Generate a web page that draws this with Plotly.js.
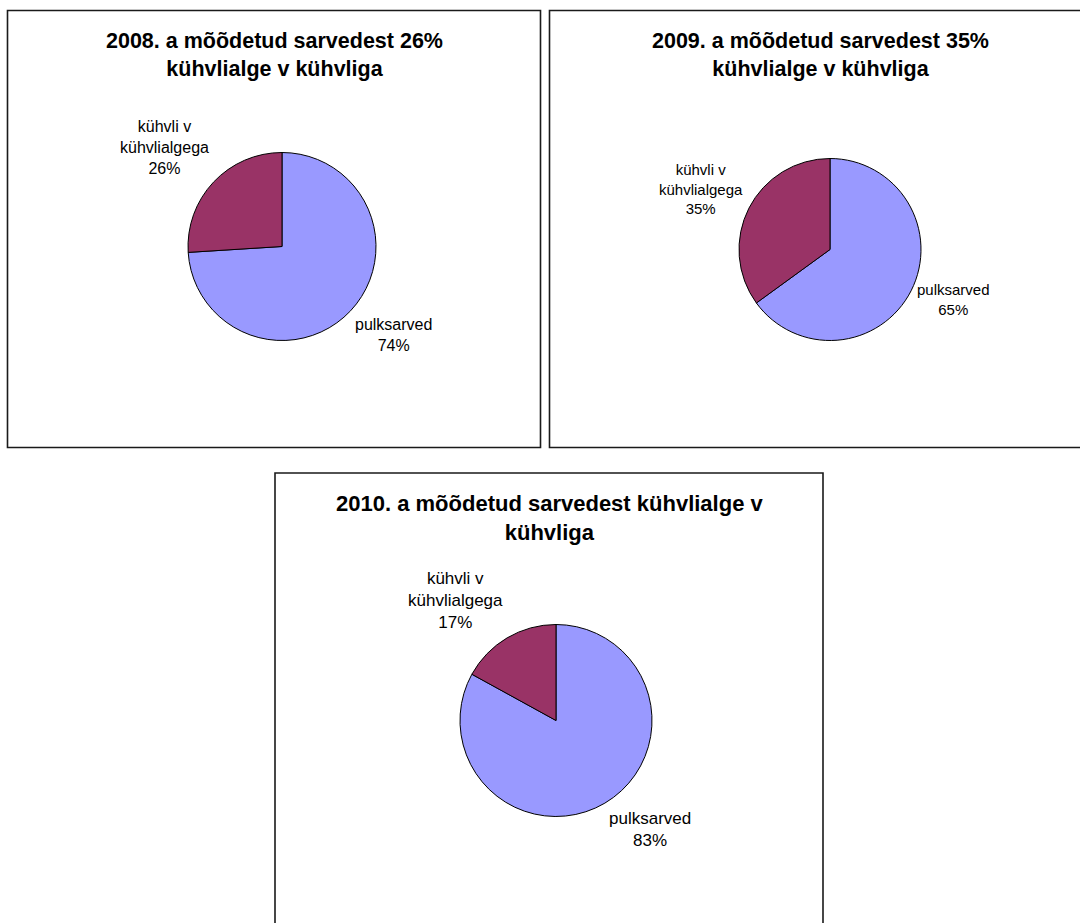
<!DOCTYPE html>
<html>
<head>
<meta charset="utf-8">
<script src="https://cdn.plot.ly/plotly-3.0.1.min.js"></script>
<style>
  html, body { margin: 0; padding: 0; background: #ffffff; }
  #chart { width: 1080px; height: 923px; }
</style>
</head>
<body>
<div id="chart"></div>
<script>
// Survey years and the two kinds of antlers measured each year
const years = ['2008', '2009', '2010'];
const sliceNames = ['pulksarved', 'kühvli v kühvlialgega'];
const sliceLabelLines = ['pulksarved', 'kühvli v<br>kühvlialgega'];
const pulksarvedShare = [74, 65, 83];
const kuhvliShare = [26, 35, 17];
// whether the share is written into the chart heading
const headingHasShare = [true, true, false];

const sliceColors = ['#9999FF', '#993366'];
const FONT = '"Liberation Sans", Arial, Helvetica, sans-serif';

const W = 1080, H = 923;
const fx = x => x / W;
const fy = y => 1 - y / H;

// Panel frames (px), pie centres / radii (px), font sizes and label nudges per panel
const panels = [
  { x0: 7.5, y0: 10.5, x1: 540.5, y1: 447.5, cx: 282, cy: 246.5, r: 94,
    titleSize: 21.5, labelSize: 16, labelDy: [0, 0] },
  { x0: 549.5, y0: 10.5, x1: 1092, y1: 447.5, cx: 830, cy: 249.5, r: 91,
    titleSize: 21.5, labelSize: 15, labelDy: [-14, 13] },
  { x0: 275, y0: 473, x1: 823, y1: 935, cx: 556, cy: 720.5, r: 96,
    titleSize: 22, labelSize: 17, labelDy: [0, 0] }
];
const LABEL_GAP = 4;

function heading(i) {
  if (headingHasShare[i]) {
    return years[i] + '. a mõõdetud sarvedest ' + kuhvliShare[i] + '%<br>kühvlialge v kühvliga';
  }
  return years[i] + '. a mõõdetud sarvedest kühvlialge v<br>kühvliga';
}

const traces = years.map((yr, i) => {
  const p = panels[i];
  return {
    type: 'pie',
    name: yr,
    labels: sliceNames,
    values: [pulksarvedShare[i], kuhvliShare[i]],
    textinfo: 'none',
    sort: false,
    direction: 'clockwise',
    rotation: 0,
    marker: { colors: sliceColors, line: { color: '#000000', width: 1 } },
    domain: {
      x: [fx(p.cx - p.r), fx(p.cx + p.r)],
      y: [fy(p.cy + p.r), fy(p.cy - p.r)]
    },
    hoverinfo: 'skip',
    showlegend: false
  };
});

const shapes = panels.map(p => ({
  type: 'rect', xref: 'paper', yref: 'paper',
  x0: fx(p.x0), x1: fx(p.x1), y0: fy(p.y1), y1: fy(p.y0),
  line: { color: '#1a1a1a', width: 1.6 },
  fillcolor: 'rgba(0,0,0,0)', layer: 'below'
}));

const annotations = [];

panels.forEach((p, i) => {
  annotations.push({
    xref: 'paper', yref: 'paper',
    x: fx((p.x0 + Math.min(p.x1, 1092)) / 2),
    y: fy(p.y0 + 16),
    xanchor: 'center', yanchor: 'top',
    text: '<b>' + heading(i) + '</b>',
    showarrow: false,
    align: 'center',
    font: { family: FONT, size: p.titleSize, color: '#000000' }
  });

  // Slice labels: the near corner of each label sits on the slice's mid-angle ray,
  // just outside the pie (clockwise from 12 o'clock, same order as the trace).
  const vals = [pulksarvedShare[i], kuhvliShare[i]];
  const total = vals.reduce((a, b) => a + b, 0);
  let cum = 0;
  vals.forEach((v, j) => {
    const mid = (cum + v / 2) / total * 2 * Math.PI;
    cum += v;
    const dx = Math.sin(mid), dy = -Math.cos(mid);
    const px = p.cx + dx * (p.r + LABEL_GAP);
    const py = p.cy + dy * (p.r + LABEL_GAP) + p.labelDy[j];
    annotations.push({
      xref: 'paper', yref: 'paper',
      x: fx(px), y: fy(py),
      xanchor: dx < 0 ? 'right' : 'left',
      yanchor: dy < 0 ? 'bottom' : 'top',
      text: sliceLabelLines[j] + '<br>' + Math.round(v / total * 100) + '%',
      showarrow: false,
      align: 'center',
      font: { family: FONT, size: p.labelSize, color: '#000000' }
    });
  });
});

const layout = {
  width: W, height: H,
  margin: { l: 0, r: 0, t: 0, b: 0 },
  paper_bgcolor: '#ffffff',
  plot_bgcolor: '#ffffff',
  showlegend: false,
  shapes: shapes,
  annotations: annotations,
  font: { family: FONT }
};

Plotly.newPlot('chart', traces, layout, { staticPlot: true, displayModeBar: false });
</script>
</body>
</html>
